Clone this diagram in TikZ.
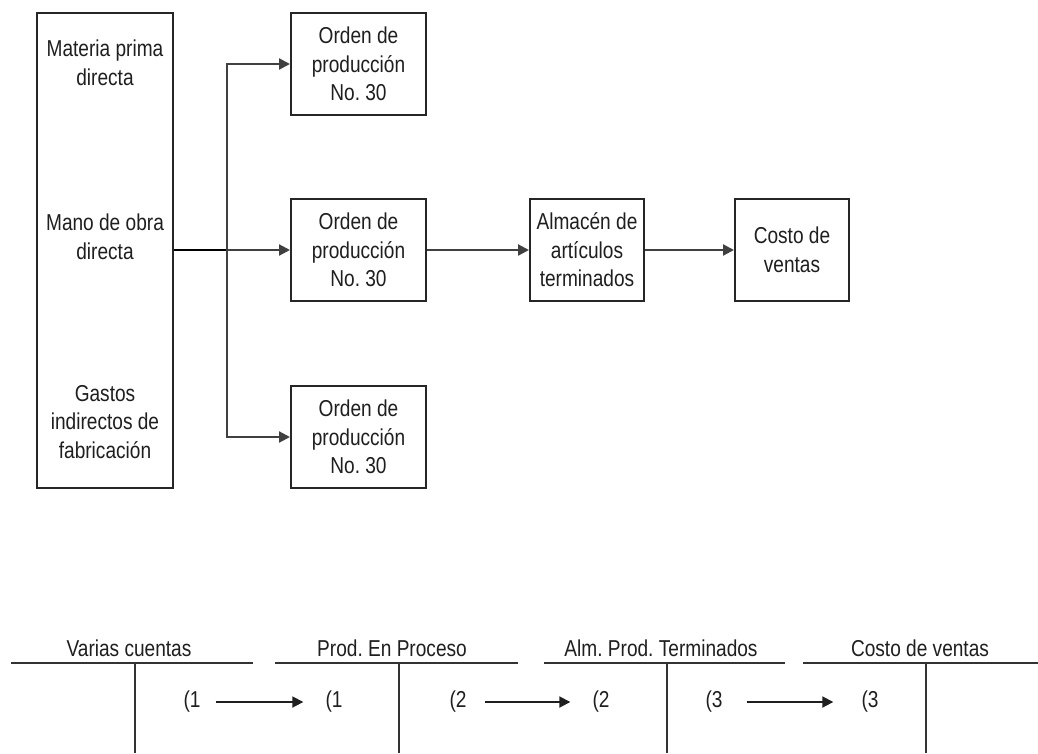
\documentclass[tikz,border=0pt]{standalone}
\usepackage{fontspec}
\setmainfont{Liberation Sans}[FakeStretch=0.83]
\usetikzlibrary{arrows.meta}
\frenchspacing
\begin{document}
\begin{tikzpicture}[x=1pt,y=-1pt,
  every node/.style={text=black!88, font=\fontsize{23}{28.5}\selectfont},
  box/.style={draw=black!85, line width=2pt, align=center, inner sep=0pt},
  label/.style={align=center, inner sep=0pt},
  conn/.style={draw=black!75, line width=2.2pt},
  arr/.style={conn, -{Triangle[length=11pt,width=11pt]}},
  trunk/.style={draw=black, line width=2.8pt},
  tline/.style={draw=black!80, line width=1.8pt},
  tlabel/.style={inner sep=0pt, anchor=base}]
  \useasboundingbox[fill=white] (0,0) rectangle (1038,753);

  % cost elements
  \node[box, minimum width=136pt, minimum height=475pt] (src) at (105,250.5) {};
  \node[label] (mp) at (105,63)  {Materia prima\\directa};
  \node[label] (mo) at (105,237) {Mano de obra\\directa};
  \node[label] (gi) at (105,422) {Gastos\\indirectos de\\fabricación};

  % production orders
  \node[box, minimum width=135pt, minimum height=102pt] (o1) at (358.5,64)  {Orden de\\producción\\No. 30};
  \node[box, minimum width=135pt, minimum height=102pt] (o2) at (358.5,250) {Orden de\\producción\\No. 30};
  \node[box, minimum width=135pt, minimum height=102pt] (o3) at (358.5,437) {Orden de\\producción\\No. 30};

  % finished goods and cost of sales
  \node[box, minimum width=114pt, minimum height=102pt] (alm) at (587,250) {Almacén de\\artículos\\terminados};
  \node[box, minimum width=114pt, minimum height=102pt] (cv)  at (792,250) {Costo de\\ventas};

  % distribution of costs
  \coordinate (j) at (227,250);
  \draw[trunk] (src.east |- j) -- (j);
  \draw[arr] (j) -- (o2.west);
  \draw[arr] (j) |- (o1.west);
  \draw[arr] (j) |- (o3.west);
  \draw[arr] (o2) -- (alm);
  \draw[arr] (alm) -- (cv);

  % T accounts
  \node[tlabel] (h1) at (129,656) {Varias cuentas};
  \node[tlabel] (h2) at (392,656) {Prod. En Proceso};
  \node[tlabel] (h3) at (661,656) {Alm. Prod. Terminados};
  \node[tlabel] (h4) at (920,656) {Costo de ventas};

  \draw[tline] (11,663) -- (253,663)   (135,663) -- (135,753);
  \draw[tline] (275,663) -- (518,663)  (399,663) -- (399,753);
  \draw[tline] (544,663) -- (785,663)  (667,663) -- (667,753);
  \draw[tline] (803,663) -- (1038,663) (926,663) -- (926,753);

  % entries
  \node[label] (e1a) at (192,702) {(1};
  \node[label] (e1b) at (334,702) {(1};
  \node[label] (e2a) at (458,702) {(2};
  \node[label] (e2b) at (601,702) {(2};
  \node[label] (e3a) at (714,702) {(3};
  \node[label] (e3b) at (870,702) {(3};

  \draw[arr, draw=black!88, line width=1.8pt, shorten <=15pt, shorten >=22pt] (e1a) -- (e1b);
  \draw[arr, draw=black!88, line width=1.8pt, shorten <=18pt, shorten >=22pt] (e2a) -- (e2b);
  \draw[arr, draw=black!88, line width=1.8pt, shorten <=24pt, shorten >=28pt] (e3a) -- (e3b);
\end{tikzpicture}
\end{document}
